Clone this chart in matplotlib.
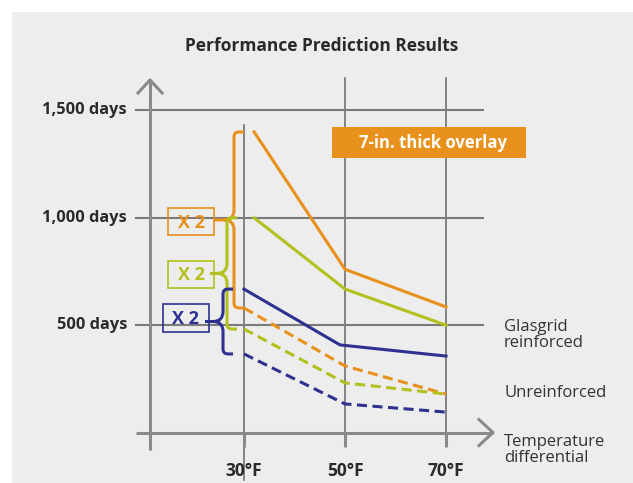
import matplotlib
matplotlib.use("Agg")
import matplotlib.pyplot as plt
import matplotlib.transforms as mtransforms
from matplotlib.path import Path
from matplotlib.patches import PathPatch, Rectangle

plt.rcParams['font.family'] = ['Open Sans', 'DejaVu Sans']

# data
temps = [30, 50, 70]
temp_labels = ['30°F', '50°F', '70°F']
day_ticks = [500, 1000, 1500]
day_labels = ['500 days', '1,000 days', '1,500 days']

# Glasgrid reinforced (solid lines)
orange_solid_x = [32, 50, 70]
orange_solid = [1400, 760, 585]
green_solid_x = [32, 50, 70]
green_solid = [1000, 668, 500]
blue_solid_x = [30, 49, 70]
blue_solid = [668, 408, 356]

# Unreinforced (dashed lines)
dash_x = [30, 50, 70]
orange_dash = [580, 310, 179]
green_dash = [482, 231, 179]
blue_dash = [366, 133, 95]

ORANGE = '#e8911c'
GREEN = '#b2c11e'
BLUE = '#2e3190'
AXIS = '#8a8a8a'
GRID = '#7a7a7a'
TEXT = '#2a2a2a'

W, H = 633, 483
fig = plt.figure(figsize=(W / 100, H / 100), dpi=100)
fig.patch.set_facecolor('white')
ax = fig.add_axes([0, 0, 1, 1])
ax.axis('off')
ax.set_xlim(-18.32, 107.03)
ax.set_ylim(-235.2, 2014.4)

# pixel helpers (for decorations only)
px = mtransforms.Affine2D().scale(1 / W, -1 / H).translate(0, 1) + fig.transFigure
PX_X = 1 / 5.05     # deg F per pixel
PX_Y = 1 / 0.2147   # days per pixel

fig.add_artist(Rectangle((12, 12), W - 12, H - 12, transform=px,
                         facecolor='#ededed', edgecolor='none', zorder=-5))

# axes with arrows
x0 = 30 - 94 * PX_X      # y-axis position
ax.plot([x0, x0], [-82, 1642], color=AXIS, lw=2.2, solid_capstyle='butt')
ax.plot([x0 - 12 * PX_X, x0, x0 + 12 * PX_X], [1642 - 13 * PX_Y, 1642, 1642 - 13 * PX_Y],
        color=AXIS, lw=2.2)
xl, xr = x0 - 14 * PX_X, 79.3
ax.plot([xl, xr], [0, 0], color=AXIS, lw=2.2, solid_capstyle='butt')
ax.plot([xr - 14 * PX_X, xr, xr - 14 * PX_X], [13 * PX_Y, 0, -13 * PX_Y], color=AXIS, lw=2.2)

# grid
for t, lab in zip(temps, temp_labels):
    top = 1432 if t == temps[0] else 1651
    bot = -220 if t == temps[0] else 0
    ax.plot([t, t], [bot, top], color='#666666', lw=1.1, zorder=1)
    ax.plot([t, t], [0, -14 * PX_Y], color=AXIS, lw=2.2, solid_capstyle='butt')
    ax.text(t, -180, lab, ha='center', va='center',
            fontsize=12.5, fontweight='bold', color=TEXT)
for d, lab in zip(day_ticks, day_labels):
    ax.plot([xl, 77.33], [d, d], color=GRID, lw=1.5, zorder=1)
    ax.text(xl - 9 * PX_X, d, lab, ha='right', va='center',
            fontsize=11.8, fontweight='bold', color=TEXT)

# series
lw = 2.2
ax.plot(orange_solid_x, orange_solid, color=ORANGE, lw=lw, zorder=3)
ax.plot(green_solid_x, green_solid, color=GREEN, lw=lw, zorder=3)
ax.plot(blue_solid_x, blue_solid, color=BLUE, lw=lw, zorder=3)
for vals, c in [(orange_dash, ORANGE), (green_dash, GREEN), (blue_dash, BLUE)]:
    ax.plot(dash_x, vals, color=c, lw=lw, dashes=(3.3, 1.8), zorder=3)


def brace(x_bar, x_tip, top, bot, color):
    mid = (top + bot) / 2
    rx, ry = 5 * PX_X, 5 * PX_Y
    x_end = x_bar + 10 * PX_X
    verts = [(x_end, top), (x_bar + rx, top), (x_bar, top), (x_bar, top - ry),
             (x_bar, mid + 2 * ry), (x_bar, mid), (x_bar - 2 * rx, mid),
             (x_tip, mid),
             (x_bar - 2 * rx, mid), (x_bar, mid), (x_bar, mid - 2 * ry),
             (x_bar, bot + ry), (x_bar, bot), (x_bar + rx, bot), (x_end, bot)]
    codes = [Path.MOVETO, Path.LINETO, Path.CURVE3, Path.CURVE3,
             Path.LINETO, Path.CURVE3, Path.CURVE3,
             Path.LINETO,
             Path.MOVETO, Path.CURVE3, Path.CURVE3,
             Path.LINETO, Path.CURVE3, Path.CURVE3, Path.LINETO]
    ax.add_patch(PathPatch(Path(verts, codes), facecolor='none', edgecolor=color,
                           lw=lw, zorder=4, capstyle='butt'))


brace(30 - 10 * PX_X, 30 - 30 * PX_X, orange_solid[0], orange_dash[0], ORANGE)
brace(30 - 17 * PX_X, 30 - 34 * PX_X, green_solid[0], green_dash[0], GREEN)
brace(30 - 21 * PX_X, 30 - 39 * PX_X, blue_solid[0], blue_dash[0], BLUE)

# "X 2" boxes
for (bx, by, bw, bh), c in [((168, 208, 46, 27), ORANGE), ((168, 261, 46, 27), GREEN),
                            ((163, 304, 46, 28), BLUE)]:
    ax.add_patch(Rectangle((bx, by), bw, bh, transform=px, facecolor='none',
                           edgecolor=c, lw=1.2, clip_on=False, zorder=5))
    ax.text(bx + bw / 2, by + bh / 2 + 1, 'X 2', transform=px, ha='center', va='center',
            fontsize=13, fontweight='bold', color=c, zorder=6)

# overlay label
ax.add_patch(Rectangle((332, 127), 194, 31, transform=px, facecolor=ORANGE,
                       edgecolor='none', clip_on=False, zorder=5))
ax.text(433, 142.5, '7-in. thick overlay', transform=px, ha='center', va='center',
        fontsize=12, fontweight='bold', color='white', zorder=6)

# right-hand labels
ax.text(504, 335, 'Glasgrid\nreinforced', transform=px, ha='left', va='center',
        fontsize=12, color='#333333', linespacing=1.05)
ax.text(504, 393, 'Unreinforced', transform=px, ha='left', va='center',
        fontsize=12, color='#333333')
ax.text(504, 450, 'Temperature\ndifferential', transform=px, ha='left', va='center',
        fontsize=12, color='#333333', linespacing=1.05)

ax.text(322, 46, 'Performance Prediction Results', transform=px, ha='center',
        va='center', fontsize=12.5, fontweight='bold', color=TEXT)

fig.savefig('out.png', dpi=100)
